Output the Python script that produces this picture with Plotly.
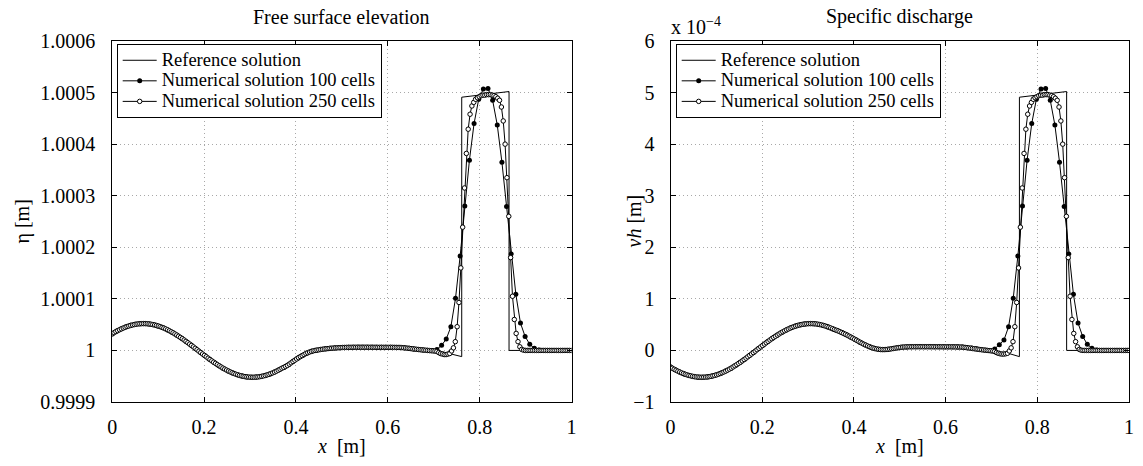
import numpy as np
import plotly.graph_objects as go

# ---------------- data (deviations in units of 1e-4) ----------------
# uniform cell grids of the two numerical solutions
x100 = np.linspace(0, 1, 100)
x250 = np.linspace(0, 1, 250)

ref_x = [0.00, 0.02, 0.04, 0.06, 0.08, 0.10, 0.12, 0.14, 0.16, 0.18,
         0.20, 0.22, 0.24, 0.26, 0.28, 0.30, 0.32, 0.34, 0.36, 0.38,
         0.40, 0.42, 0.44, 0.46, 0.48, 0.50, 0.52, 0.54, 0.56, 0.58,
         0.60, 0.62, 0.64, 0.66, 0.68, 0.70, 0.72, 0.74, 0.761, 0.761,
         0.864, 0.864, 1.00]

ref_eta = [0.323, 0.419, 0.485, 0.517, 0.513, 0.474, 0.402, 0.301, 0.180, 0.046,
           -0.091, -0.222, -0.337, -0.429, -0.491, -0.519, -0.510, -0.467, -0.391, -0.300,
           -0.175, -0.070, -0.003, 0.025, 0.043, 0.054, 0.058, 0.060, 0.061, 0.062,
           0.061, 0.060, 0.046, 0.026, 0.008, -0.005, -0.030, -0.070, -0.120, 4.910,
           5.020, 0.000, 0.000]

ref_vh = [-0.323, -0.419, -0.485, -0.517, -0.513, -0.474, -0.402, -0.301, -0.180, -0.046,
          0.091, 0.222, 0.337, 0.429, 0.491, 0.519, 0.510, 0.467, 0.391, 0.320,
          0.226, 0.128, 0.050, 0.017, 0.029, 0.057, 0.070, 0.072, 0.072, 0.071,
          0.070, 0.068, 0.060, 0.036, 0.012, -0.005, -0.030, -0.065, -0.120, 4.910,
          5.020, 0.000, 0.000]

eta_100 = [0.320, 0.375, 0.420, 0.457, 0.486, 0.506, 0.518, 0.520, 0.513, 0.496,
           0.471, 0.438, 0.396, 0.348, 0.293, 0.234, 0.170, 0.103, 0.034, -0.036,
           -0.105, -0.172, -0.236, -0.295, -0.349, -0.398, -0.440, -0.473, -0.497, -0.513,
           -0.520, -0.517, -0.505, -0.484, -0.455, -0.419, -0.373, -0.330, -0.280, -0.212,
           -0.150, -0.098, -0.050, -0.017, 0.004, 0.019, 0.031, 0.041, 0.048, 0.053,
           0.057, 0.060, 0.060, 0.061, 0.062, 0.062, 0.061, 0.061, 0.060, 0.060,
           0.060, 0.059, 0.058, 0.050, 0.040, 0.028, 0.018, 0.008, 0.002, 0.000,
           0.020, 0.100, 0.220, 0.460, 1.010, 1.830, 2.800, 3.690, 4.400, 4.870,
           5.070, 5.080, 4.850, 4.370, 3.650, 2.790, 1.870, 1.090, 0.530, 0.270,
           0.120, 0.040, 0.010, 0.000, 0.000, 0.000, 0.000, 0.000, 0.000, 0.000]

vh_100 = [-0.320, -0.375, -0.420, -0.457, -0.486, -0.506, -0.518, -0.520, -0.513, -0.496,
          -0.471, -0.438, -0.396, -0.348, -0.293, -0.234, -0.170, -0.103, -0.034, 0.036,
          0.105, 0.172, 0.236, 0.295, 0.349, 0.398, 0.440, 0.473, 0.497, 0.513,
          0.520, 0.517, 0.505, 0.484, 0.455, 0.419, 0.385, 0.347, 0.305, 0.255,
          0.206, 0.156, 0.110, 0.070, 0.040, 0.021, 0.016, 0.021, 0.036, 0.051,
          0.063, 0.068, 0.070, 0.071, 0.072, 0.072, 0.072, 0.071, 0.071, 0.070,
          0.070, 0.069, 0.068, 0.066, 0.058, 0.045, 0.031, 0.017, 0.005, 0.000,
          0.030, 0.110, 0.200, 0.460, 1.010, 1.830, 2.800, 3.690, 4.400, 4.870,
          5.070, 5.080, 4.850, 4.370, 3.650, 2.790, 1.870, 1.090, 0.530, 0.270,
          0.120, 0.040, 0.010, 0.000, 0.000, 0.000, 0.000, 0.000, 0.000, 0.000]

eta_250 = [0.323, 0.345, 0.365, 0.384, 0.402, 0.419, 0.435, 0.449, 0.463, 0.474,
           0.485, 0.494, 0.502, 0.509, 0.514, 0.517, 0.519, 0.520, 0.519, 0.517,
           0.513, 0.508, 0.501, 0.493, 0.484, 0.473, 0.461, 0.447, 0.433, 0.417,
           0.400, 0.381, 0.362, 0.342, 0.320, 0.298, 0.275, 0.251, 0.227, 0.202,
           0.176, 0.150, 0.123, 0.096, 0.069, 0.041, 0.014, -0.014, -0.041, -0.069,
           -0.096, -0.123, -0.150, -0.176, -0.202, -0.227, -0.251, -0.275, -0.298, -0.320,
           -0.342, -0.362, -0.381, -0.400, -0.417, -0.433, -0.447, -0.461, -0.473, -0.484,
           -0.493, -0.501, -0.508, -0.513, -0.517, -0.519, -0.520, -0.519, -0.517, -0.514,
           -0.509, -0.502, -0.494, -0.485, -0.474, -0.463, -0.449, -0.435, -0.419, -0.402,
           -0.384, -0.365, -0.345, -0.330, -0.310, -0.290, -0.265, -0.240, -0.215, -0.190,
           -0.165, -0.140, -0.120, -0.100, -0.080, -0.060, -0.045, -0.030, -0.018, -0.008,
           0.000, 0.006, 0.012, 0.018, 0.023, 0.028, 0.032, 0.036, 0.040, 0.043,
           0.046, 0.049, 0.051, 0.053, 0.055, 0.057, 0.058, 0.059, 0.060, 0.060,
           0.061, 0.061, 0.061, 0.062, 0.062, 0.062, 0.062, 0.062, 0.062, 0.061,
           0.061, 0.061, 0.061, 0.061, 0.060, 0.060, 0.060, 0.060, 0.060, 0.060,
           0.060, 0.060, 0.060, 0.059, 0.059, 0.058, 0.058, 0.055, 0.052, 0.048,
           0.044, 0.040, 0.035, 0.030, 0.026, 0.022, 0.018, 0.014, 0.010, 0.007,
           0.004, 0.000, -0.003, -0.006, -0.009, -0.012, -0.020, -0.040, -0.060, -0.070,
           -0.080, -0.080, -0.070, -0.060, -0.010, 0.050, 0.170, 0.460, 0.930, 1.600,
           2.390, 3.150, 3.820, 4.290, 4.580, 4.740, 4.810, 4.870, 4.900, 4.920,
           4.940, 4.950, 4.950, 4.960, 4.960, 4.960, 4.950, 4.940, 4.920, 4.890,
           4.850, 4.720, 4.450, 4.000, 3.350, 2.600, 1.800, 1.050, 0.600, 0.330,
           0.170, 0.070, 0.020, 0.005, 0.000, 0.000, 0.000, 0.000, 0.000, 0.000,
           0.000, 0.000, 0.000, 0.000, 0.000, 0.000, 0.000, 0.000, 0.000, 0.000,
           0.000, 0.000, 0.000, 0.000, 0.000, 0.000, 0.000, 0.000, 0.000, 0.000]

vh_250 = [-0.323, -0.345, -0.365, -0.384, -0.402, -0.419, -0.435, -0.449, -0.463, -0.474,
          -0.485, -0.494, -0.502, -0.509, -0.514, -0.517, -0.519, -0.520, -0.519, -0.517,
          -0.513, -0.508, -0.501, -0.493, -0.484, -0.473, -0.461, -0.447, -0.433, -0.417,
          -0.400, -0.381, -0.362, -0.342, -0.320, -0.298, -0.275, -0.251, -0.227, -0.202,
          -0.176, -0.150, -0.123, -0.096, -0.069, -0.041, -0.014, 0.014, 0.041, 0.069,
          0.096, 0.123, 0.150, 0.176, 0.202, 0.227, 0.251, 0.275, 0.298, 0.320,
          0.342, 0.362, 0.381, 0.400, 0.417, 0.433, 0.447, 0.461, 0.473, 0.484,
          0.493, 0.501, 0.508, 0.513, 0.517, 0.519, 0.520, 0.519, 0.517, 0.514,
          0.509, 0.502, 0.494, 0.485, 0.474, 0.463, 0.449, 0.435, 0.420, 0.405,
          0.392, 0.378, 0.363, 0.347, 0.330, 0.313, 0.295, 0.276, 0.257, 0.238,
          0.218, 0.198, 0.178, 0.158, 0.139, 0.120, 0.103, 0.087, 0.072, 0.058,
          0.046, 0.036, 0.028, 0.022, 0.018, 0.016, 0.016, 0.018, 0.021, 0.026,
          0.032, 0.038, 0.044, 0.050, 0.055, 0.060, 0.064, 0.067, 0.069, 0.070,
          0.071, 0.071, 0.072, 0.072, 0.072, 0.072, 0.072, 0.072, 0.072, 0.072,
          0.072, 0.072, 0.071, 0.071, 0.071, 0.071, 0.071, 0.070, 0.070, 0.070,
          0.070, 0.070, 0.070, 0.069, 0.069, 0.068, 0.068, 0.067, 0.065, 0.062,
          0.058, 0.053, 0.048, 0.043, 0.038, 0.033, 0.028, 0.023, 0.018, 0.013,
          0.009, 0.005, 0.001, -0.003, -0.007, -0.012, -0.020, -0.040, -0.055, -0.065,
          -0.070, -0.070, -0.065, -0.055, -0.010, 0.050, 0.170, 0.460, 0.930, 1.600,
          2.390, 3.150, 3.820, 4.290, 4.580, 4.740, 4.810, 4.870, 4.900, 4.920,
          4.940, 4.950, 4.950, 4.960, 4.960, 4.960, 4.950, 4.940, 4.920, 4.890,
          4.850, 4.720, 4.450, 4.000, 3.350, 2.600, 1.800, 1.050, 0.600, 0.330,
          0.170, 0.070, 0.020, 0.005, 0.000, 0.000, 0.000, 0.000, 0.000, 0.000,
          0.000, 0.000, 0.000, 0.000, 0.000, 0.000, 0.000, 0.000, 0.000, 0.000,
          0.000, 0.000, 0.000, 0.000, 0.000, 0.000, 0.000, 0.000, 0.000, 0.000]

x_ticks = [0, 0.2, 0.4, 0.6, 0.8, 1]
x_ticktext = ["0", "0.2", "0.4", "0.6", "0.8", "1"]
eta_ticks = [0.9999, 1.0, 1.0001, 1.0002, 1.0003, 1.0004, 1.0005, 1.0006]
eta_ticktext = ["0.9999", "1", "1.0001", "1.0002", "1.0003", "1.0004", "1.0005", "1.0006"]
vh_ticks = [-1, 0, 1, 2, 3, 4, 5, 6]
vh_ticktext = ["\u22121", "0", "1", "2", "3", "4", "5", "6"]

names = ["Reference solution", "Numerical solution 100 cells", "Numerical solution 250 cells"]

SCALE = 1e-4
FONT = "Liberation Serif, Times New Roman, Times, serif"


def eta(vals):
    return [1.0 + v * SCALE for v in vals]


def vh(vals):
    return [v * SCALE for v in vals]


def legend_label(text):
    # large text, compact legend rows (row height follows the legend font size)
    return "<span style='font-size:18.5px'>" + text + "</span>"


fig = go.Figure()

panels = [
    ("x", "y", "legend", eta(ref_eta), eta(eta_100), eta(eta_250)),
    ("x2", "y2", "legend2", vh(ref_vh), vh(vh_100), vh(vh_250)),
]
for xa, ya, lg, r, a, b in panels:
    fig.add_trace(go.Scatter(x=ref_x, y=r, mode="lines", name=legend_label(names[0]),
                             line=dict(color="black", width=1),
                             xaxis=xa, yaxis=ya, legend=lg))
    fig.add_trace(go.Scatter(x=x100, y=a, mode="lines+markers", name=legend_label(names[1]),
                             line=dict(color="black", width=1),
                             marker=dict(symbol="circle", size=5, color="black"),
                             xaxis=xa, yaxis=ya, legend=lg))
    fig.add_trace(go.Scatter(x=x250, y=b, mode="lines+markers", name=legend_label(names[2]),
                             line=dict(color="black", width=1),
                             marker=dict(symbol="circle", size=4.5, color="white",
                                         line=dict(color="black", width=1)),
                             xaxis=xa, yaxis=ya, legend=lg))

W, H = 1143, 466
L1, R1 = 112.2, 571.5
L2, R2 = 670.5, 1129.0
TOP, BOT = 41.0, 402.0

axis_common = dict(
    showline=True, linecolor="black", linewidth=1, mirror="ticks",
    ticks="inside", ticklen=5, tickwidth=1, tickcolor="black",
    showgrid=True, gridcolor="#a8a8a8", gridwidth=1, griddash="1px,3px",
    zeroline=False, automargin=False,
    tickfont=dict(family=FONT, size=20, color="black"),
)

fig.update_layout(
    width=W, height=H,
    margin=dict(l=0, r=0, t=0, b=0, autoexpand=False),
    paper_bgcolor="white", plot_bgcolor="white",
    showlegend=True,
    xaxis=dict(domain=[L1 / W, R1 / W], range=[0, 1], anchor="y",
               tickmode="array", tickvals=x_ticks, ticktext=x_ticktext,
               ticklabelstandoff=7, **axis_common),
    yaxis=dict(domain=[(H - BOT) / H, (H - TOP) / H], range=[0.9999, 1.0006], anchor="x",
               tickmode="array", tickvals=eta_ticks, ticktext=eta_ticktext,
               ticklabelstandoff=12, **axis_common),
    xaxis2=dict(domain=[L2 / W, R2 / W], range=[0, 1], anchor="y2",
                tickmode="array", tickvals=x_ticks, ticktext=x_ticktext,
                ticklabelstandoff=7, **axis_common),
    yaxis2=dict(domain=[(H - BOT) / H, (H - TOP) / H], range=[-1 * SCALE, 6 * SCALE], anchor="x2",
                tickmode="array", tickvals=[t * SCALE for t in vh_ticks], ticktext=vh_ticktext,
                ticklabelstandoff=11, **axis_common),
)

legend_common = dict(
    xanchor="left", yanchor="top", bgcolor="white",
    bordercolor="black", borderwidth=1,
    font=dict(family=FONT, size=13.5, color="black"),
    tracegroupgap=0, itemwidth=34,
)
fig.update_layout(
    legend=dict(x=116.7 / W, y=(H - 44.0) / H, **legend_common),
    legend2=dict(x=675.7 / W, y=(H - 44.0) / H, **legend_common),
)

ann_font = dict(family=FONT, size=20, color="black")
annotations = [
    dict(text="Free surface elevation", x=(L1 + R1) / 2 / W, y=(H - 17) / H),
    dict(text="Specific discharge", x=(L2 + R2) / 2 / W, y=(H - 17) / H),
    dict(text="<i>x</i>\u00a0\u00a0[m]", x=(L1 + R1) / 2 / W, y=(H - 446) / H),
    dict(text="<i>x</i>\u00a0\u00a0[m]", x=(L2 + R2) / 2 / W, y=(H - 446) / H),
    dict(text="\u03b7 [m]", x=22 / W, y=(H - (TOP + BOT) / 2) / H, textangle=-90),
    dict(text="<i>vh</i> [m]", x=633 / W, y=(H - (TOP + BOT) / 2) / H, textangle=-90),
]
for a in annotations:
    a.update(xref="paper", yref="paper", showarrow=False, font=ann_font,
             xanchor="center", yanchor="middle")
annotations.append(dict(text="x 10<sup>\u22124</sup>", x=(L2 - 2) / W, y=(H - 40) / H,
                        xref="paper", yref="paper", showarrow=False, font=ann_font,
                        xanchor="left", yanchor="bottom"))
fig.update_layout(annotations=annotations)

fig.write_html("out.html",
               config={"displayModeBar": False},
               post_script="document.body.style.margin='0';document.body.style.padding='0';")
